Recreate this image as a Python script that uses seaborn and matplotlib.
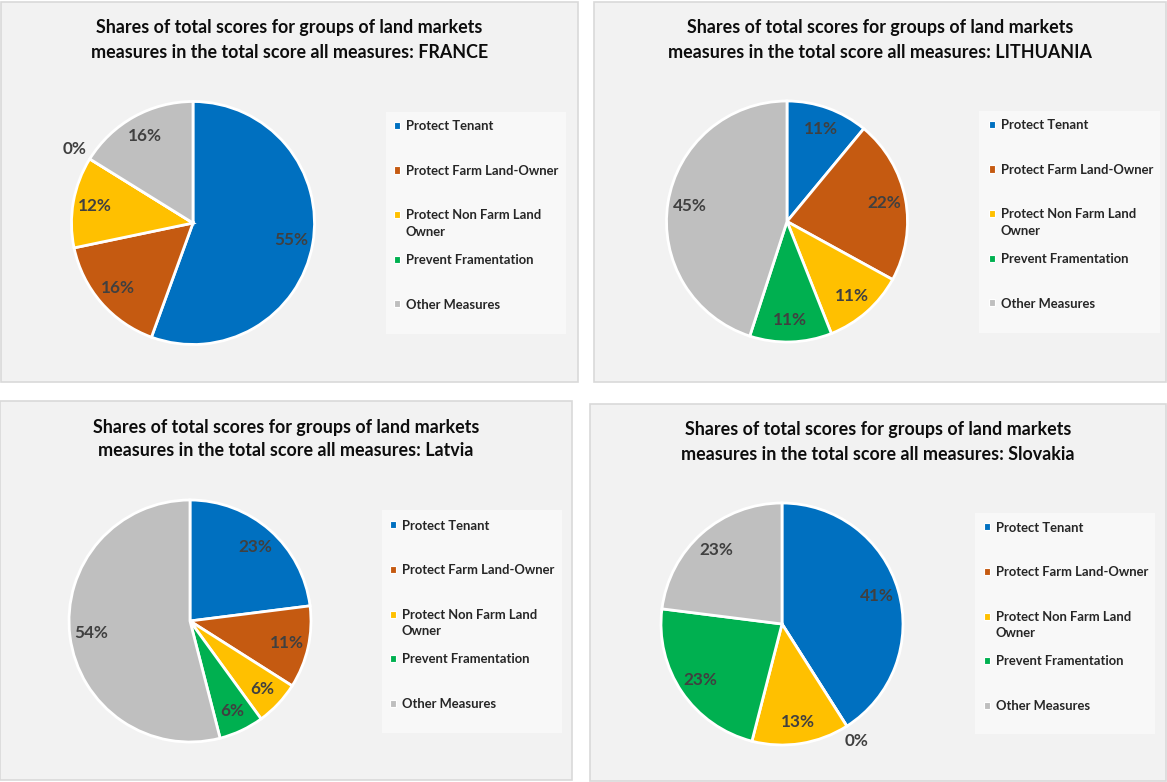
import matplotlib
matplotlib.use("Agg")
import matplotlib.pyplot as plt
import seaborn as sns
import numpy as np
from matplotlib.patches import Rectangle, Patch

# Measure groups and their shares (%) of the total score, per country
categories = ["Protect Tenant", "Protect Farm Land-Owner",
              "Protect Non Farm Land\nOwner", "Prevent Framentation",
              "Other Measures"]
countries = ["FRANCE", "LITHUANIA", "Latvia", "Slovakia"]
france = [55, 16, 12, 0, 16]
lithuania = [11, 22, 11, 11, 45]
latvia = [23, 11, 6, 6, 54]
slovakia = [41, 0, 13, 23, 23]
shares = [france, lithuania, latvia, slovakia]

colors = sns.color_palette(["#0070C0", "#C55A11", "#FFC000", "#00B050", "#BFBFBF"])

sns.set_theme(style="white")
plt.rcParams["font.family"] = ["Lato", "DejaVu Sans"]

W, H = 1167, 782
fig = plt.figure(figsize=(W / 100, H / 100), dpi=100)
fig.patch.set_facecolor("white")


def fx(x):
    return x / W


def fy(y):
    return 1 - y / H


# pixel layout of each panel: outer box, pie centre and radius,
# legend background box and the first legend entry (marker centre x, text centre y)
layout = [
    dict(panel=(1, 2, 578, 382), center=(193, 223), r=121.5,
         legend=(386, 112, 566, 334), entry=(397, 125.5)),
    dict(panel=(594, 2, 1166, 382), center=(787, 221.5), r=120.5,
         legend=(979, 111, 1160, 333), entry=(992, 124.5)),
    dict(panel=(0, 401, 572, 780), center=(190, 621), r=121,
         legend=(382, 510, 562, 733), entry=(393, 525)),
    dict(panel=(590, 404, 1166, 781), center=(782, 624), r=121,
         legend=(975, 513, 1155, 734), entry=(987, 527)),
]

LEG_FS = 9.4
EM = LEG_FS * 100 / 72  # legend font size in pixels

for country, vals, lay in zip(countries, shares, layout):
    x0, y0, x1, y1 = lay["panel"]
    fig.add_artist(Rectangle((fx(x0), fy(y1)), (x1 - x0) / W, (y1 - y0) / H,
                             transform=fig.transFigure, facecolor="#F2F2F2",
                             edgecolor="#D9D9D9", linewidth=1.2, zorder=-2))
    fig.text(fx((x0 + x1) / 2), fy(y0 + 17.5),
             "Shares of total scores for groups of land markets\n"
             f"measures in the total score all measures: {country}",
             ha="center", va="top", fontsize=12.9, fontweight="bold",
             color="#0D0D0D", linespacing=1.5)

    lx0, ly0, lx1, ly1 = lay["legend"]
    fig.add_artist(Rectangle((fx(lx0), fy(ly1)), (lx1 - lx0) / W, (ly1 - ly0) / H,
                             transform=fig.transFigure, facecolor="#F8F8F8",
                             edgecolor="none", zorder=-1))

    cx, cy = lay["center"]
    r = lay["r"]
    ax = fig.add_axes([fx(cx - r), fy(cy + r), 2 * r / W, 2 * r / H])
    wedges, _ = ax.pie(vals, colors=colors, startangle=90, counterclock=False,
                       wedgeprops=dict(edgecolor="white", linewidth=2))
    ax.set_xlim(-1.0, 1.0)
    ax.set_ylim(-1.0, 1.0)
    ax.set_axis_off()

    # percentage labels: inside each slice, empty slices just outside the rim
    for w, v in zip(wedges, vals):
        mid = np.deg2rad((w.theta1 + w.theta2) / 2)
        dist = 0.82 if v > 0 else 1.15
        ax.text(dist * np.cos(mid), dist * np.sin(mid), f"{v}%",
                ha="center", va="center", fontsize=12.3, fontweight="bold",
                color="#404040")

    # legend: one entry per slice; wrapped names continue on a line below
    first_lines = [c.split("\n")[0] for c in categories]
    handles = [Patch(facecolor=w.get_facecolor(), edgecolor="white", linewidth=0.8)
               for w in wedges]
    mx, my = lay["entry"]
    hl = 0.45
    leg = ax.legend(handles, first_lines, loc="upper left",
                    bbox_to_anchor=(fx(mx - hl * EM / 2), fy(my - 0.42 * EM)),
                    bbox_transform=fig.transFigure, frameon=False,
                    handlelength=hl, handleheight=hl, handletextpad=0.45,
                    labelspacing=2.5, borderaxespad=0, borderpad=0,
                    prop=dict(weight="bold", size=LEG_FS), labelcolor="#262626")
    for txt, full in zip(leg.get_texts(), categories):
        for k, extra in enumerate(full.split("\n")[1:], start=1):
            ax.annotate(extra, xy=(0, 0), xycoords=txt,
                        xytext=(0, -16.5 * k), textcoords="offset pixels",
                        ha="left", va="bottom", fontsize=LEG_FS,
                        fontweight="bold", color="#262626", zorder=6,
                        annotation_clip=False)

fig.savefig("out.png", dpi=100, facecolor="white")
